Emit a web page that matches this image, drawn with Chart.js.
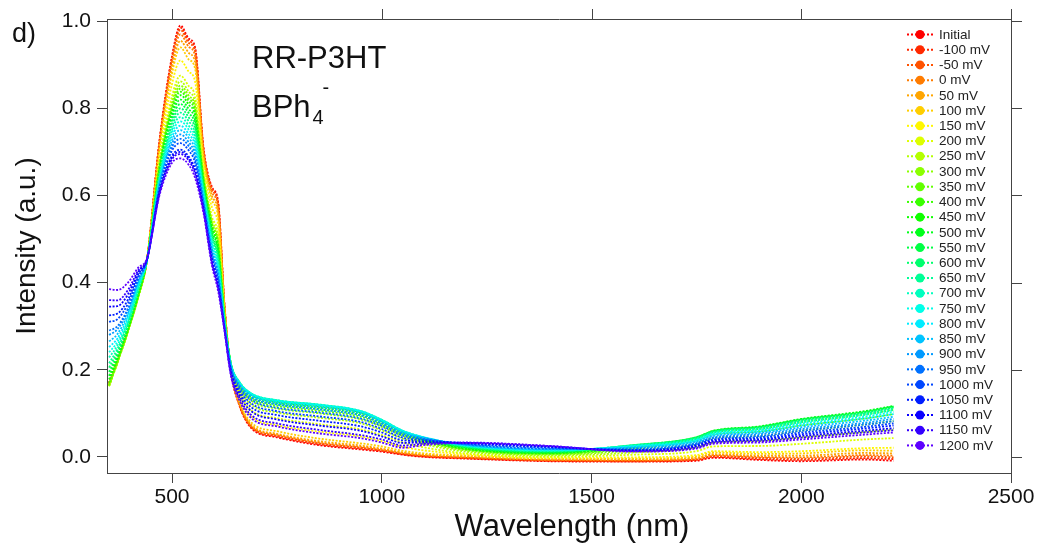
<!DOCTYPE html>
<html>
<head>
<meta charset="utf-8">
<script src="https://cdn.jsdelivr.net/npm/chart.js@4.4.1/dist/chart.umd.min.js"></script>
<style>
  html, body { margin: 0; padding: 0; background: #fff; }
</style>
</head>
<body>
<canvas id="spectra" width="1037" height="548"></canvas>
<script>
// wavelength grid (nm) shared by every spectrum
const wavelength = [350, 370, 395, 420, 440, 470, 500, 520, 540, 555, 575, 595, 610, 625, 640, 660, 690, 750, 850, 950, 1000, 1050, 1100, 1200, 1400, 1600, 1750, 1790, 1900, 2000, 2150, 2220];

const potentials = ['Initial', '-100 mV', '-50 mV', '0 mV', '50 mV', '100 mV', '150 mV', '200 mV', '250 mV', '300 mV',
  '350 mV', '400 mV', '450 mV', '500 mV', '550 mV', '600 mV', '650 mV', '700 mV', '750 mV', '800 mV',
  '850 mV', '900 mV', '950 mV', '1000 mV', '1050 mV', '1100 mV', '1150 mV', '1200 mV'];

const xTicks = [500, 1000, 1500, 2000, 2500];
const yTicks = [0.0, 0.2, 0.4, 0.6, 0.8, 1.0];

// intensity (a.u.) at each wavelength, one array per applied potential
const iInitial = [.17, .222, .292, .372, .45, .725, .92, .99, .96, .94, .71, .62, .585, .35, .20, .12, .065, .045, .027, .017, .012, .005, 0, -.004, -.01, -.011, -.009, -.002, -.007, -.01, -.006, -.009];
const iM100 = [.17, .222, .292, .372, .45, .723, .916, .985, .955, .935, .708, .617, .582, .349, .200, .121, .067, .047, .029, .019, .014, .006, .001, -.003, -.009, -.01, -.007, 0, -.005, -.007, -.003, -.005];
const iM50 = [.168, .221, .291, .371, .45, .721, .912, .98, .95, .93, .705, .614, .578, .348, .200, .122, .068, .049, .031, .021, .015, .007, .002, -.002, -.008, -.009, -.006, .002, -.002, -.004, .001, -.001];
const i0 = [.167, .22, .29, .37, .45, .717, .904, .97, .941, .92, .70, .608, .571, .346, .200, .123, .070, .051, .033, .023, .017, .009, .004, -.001, -.007, -.008, -.004, .004, 0, -.001, .004, .003];
const i50 = [.166, .219, .29, .37, .45, .711, .892, .955, .927, .906, .693, .599, .561, .343, .200, .125, .073, .053, .036, .026, .019, .010, .005, .001, -.006, -.006, -.002, .006, .003, .003, .009, .008];
const i100 = [.165, .218, .289, .369, .45, .705, .88, .94, .912, .891, .685, .59, .551, .34, .201, .128, .078, .059, .042, .031, .024, .014, .008, .003, -.004, -.004, .001, .010, .007, .008, .015, .014];
const i150 = [.164, .218, .289, .369, .45, .692, .856, .91, .884, .861, .671, .573, .531, .334, .204, .137, .092, .073, .058, .047, .036, .023, .015, .006, -.002, -.001, .004, .013, .011, .013, .020, .021];
const i200 = [.163, .217, .288, .368, .45, .678, .828, .875, .851, .827, .653, .552, .508, .327, .207, .147, .106, .089, .075, .063, .050, .033, .022, .008, 0, .005, .013, .024, .025, .03, .04, .043];
const i250 = [.162, .216, .288, .368, .45, .673, .817, .862, .838, .814, .647, .544, .499, .325, .210, .156, .119, .102, .09, .077, .061, .042, .029, .012, .003, .01, .022, .033, .037, .045, .057, .063];
const i300 = [.163, .217, .288, .368, .45, .668, .809, .852, .829, .804, .642, .539, .492, .323, .213, .161, .128, .111, .10, .086, .069, .048, .033, .015, .005, .015, .030, .043, .048, .06, .074, .082];
const i350 = [.165, .218, .289, .369, .45, .666, .804, .845, .822, .798, .639, .535, .488, .322, .214, .165, .133, .117, .106, .092, .074, .052, .036, .017, .007, .019, .037, .051, .058, .072, .088, .098];
const i400 = [.17, .222, .292, .372, .45, .663, .798, .838, .816, .791, .635, .53, .483, .32, .215, .167, .136, .121, .11, .096, .077, .054, .038, .018, .008, .022, .041, .056, .064, .08, .097, .108];
const i450 = [.178, .226, .294, .375, .45, .659, .791, .83, .808, .783, .631, .526, .477, .319, .215, .169, .139, .123, .113, .099, .080, .056, .040, .019, .009, .024, .044, .059, .068, .085, .102, .115];
const i500 = [.186, .231, .297, .377, .45, .655, .784, .82, .798, .773, .626, .52, .471, .317, .216, .171, .142, .126, .116, .102, .082, .058, .041, .021, .01, .026, .045, .060, .070, .087, .105, .117];
const i550 = [.195, .236, .30, .38, .45, .651, .775, .81, .789, .763, .622, .514, .464, .315, .215, .172, .143, .128, .118, .104, .083, .059, .042, .022, .011, .027, .045, .059, .069, .086, .103, .116];
const i600 = [.205, .242, .303, .384, .45, .647, .767, .80, .779, .753, .617, .508, .457, .313, .215, .172, .144, .129, .119, .104, .084, .059, .043, .023, .012, .027, .044, .058, .067, .084, .101, .113];
const i650 = [.215, .248, .307, .387, .45, .643, .759, .79, .77, .743, .612, .502, .451, .311, .215, .173, .145, .130, .12, .105, .085, .060, .044, .024, .013, .027, .043, .057, .066, .082, .099, .111];
const i700 = [.228, .256, .312, .391, .45, .639, .751, .78, .76, .733, .607, .496, .444, .309, .214, .172, .145, .130, .12, .105, .085, .060, .045, .025, .014, .026, .041, .055, .063, .079, .096, .107];
const i750 = [.24, .264, .317, .395, .45, .635, .743, .77, .751, .724, .602, .49, .437, .307, .213, .172, .145, .130, .12, .105, .085, .060, .045, .026, .015, .025, .039, .053, .061, .076, .092, .103];
const i800 = [.252, .272, .323, .399, .45, .631, .735, .76, .741, .714, .597, .484, .43, .305, .212, .171, .143, .128, .118, .104, .083, .059, .045, .027, .016, .024, .037, .051, .058, .072, .088, .098];
const i850 = [.265, .282, .329, .402, .45, .627, .727, .75, .732, .704, .592, .478, .424, .303, .210, .168, .140, .124, .114, .100, .080, .056, .044, .027, .017, .022, .035, .048, .055, .068, .083, .092];
const i900 = [.28, .293, .336, .407, .45, .622, .719, .74, .722, .694, .587, .472, .417, .301, .208, .165, .136, .120, .109, .095, .076, .053, .043, .028, .018, .02, .032, .045, .052, .064, .078, .087];
const i950 = [.29, .30, .341, .41, .45, .618, .711, .73, .713, .684, .582, .467, .41, .299, .206, .161, .130, .113, .102, .088, .071, .049, .041, .029, .019, .018, .030, .043, .048, .06, .074, .082];
const i1000 = [.31, .316, .352, .415, .452, .614, .703, .72, .703, .675, .577, .461, .404, .297, .202, .155, .122, .105, .093, .080, .064, .044, .039, .030, .021, .016, .028, .040, .045, .056, .069, .077];
const i1050 = [.325, .329, .361, .42, .452, .608, .691, .705, .689, .66, .57, .452, .394, .294, .198, .149, .113, .096, .083, .070, .056, .038, .036, .032, .023, .015, .026, .038, .042, .052, .065, .072];
const i1100 = [.345, .346, .373, .425, .453, .606, .687, .70, .684, .655, .567, .449, .39, .293, .195, .142, .104, .086, .072, .060, .047, .032, .033, .032, .024, .014, .024, .035, .039, .048, .060, .066];
const i1150 = [.36, .359, .383, .429, .454, .604, .683, .695, .68, .65, .565, .446, .387, .292, .191, .136, .095, .077, .062, .050, .040, .026, .030, .033, .025, .013, .021, .033, .036, .044, .056, .061];
const i1200 = [.385, .383, .40, .435, .455, .60, .675, .685, .67, .64, .56, .44, .38, .29, .188, .131, .088, .070, .054, .043, .033, .021, .027, .032, .025, .012, .019, .030, .033, .04, .051, .056];

const spectra = [iInitial, iM100, iM50, i0, i50, i100, i150, i200, i250, i300, i350, i400, i450, i500, i550,
  i600, i650, i700, i750, i800, i850, i900, i950, i1000, i1050, i1100, i1150, i1200];

const FONT = "'Liberation Sans', Arial, sans-serif";
const AXIS = '#444';
const TEXT = '#111';

// red -> violet rainbow across the potential series
function seriesColor(i) {
  return `hsl(${(i * 262 / (spectra.length - 1)).toFixed(1)}, 100%, 50%)`;
}

const datasets = spectra.map((vals, i) => ({
  label: potentials[i],
  data: wavelength.map((w, j) => ({ x: w, y: vals[j] })),
  borderColor: seriesColor(i),
  backgroundColor: seriesColor(i),
  borderWidth: 1.8,
  borderDash: [2, 1.5],
  pointRadius: 0,
  fill: false,
  cubicInterpolationMode: 'monotone',
  order: spectra.length - 1 - i
}));

// frame, mirrored ticks, axis title, panel annotations and the potential legend
const decorations = {
  id: 'decorations',
  afterDraw(chart) {
    const { ctx, chartArea: a, scales: { x, y } } = chart;
    ctx.save();

    ctx.strokeStyle = AXIS;
    ctx.lineWidth = 1;
    ctx.setLineDash([]);
    ctx.beginPath();
    ctx.moveTo(a.left, a.top + 0.5);
    ctx.lineTo(a.right + 1, a.top + 0.5);
    ctx.moveTo(a.right + 0.5, a.top);
    ctx.lineTo(a.right + 0.5, a.bottom);
    x.ticks.forEach(t => {
      const px = Math.round(x.getPixelForValue(t.value)) + 0.5;
      ctx.moveTo(px, a.top);
      ctx.lineTo(px, a.top - 10);
    });
    y.ticks.forEach(t => {
      const py = Math.round(y.getPixelForValue(t.value)) + 0.5;
      ctx.moveTo(a.right, py);
      ctx.lineTo(a.right + 11, py);
    });
    ctx.stroke();

    ctx.fillStyle = TEXT;
    ctx.textAlign = 'center';
    ctx.textBaseline = 'middle';
    ctx.font = `31px ${FONT}`;
    ctx.fillText('Wavelength (nm)', 572, 527);

    ctx.textBaseline = 'alphabetic';
    ctx.textAlign = 'left';
    ctx.font = `27px ${FONT}`;
    ctx.fillText('d)', 12, 42);

    ctx.font = `31px ${FONT}`;
    ctx.fillText('RR-P3HT', 252, 68);
    ctx.fillText('BPh', 252, 117);
    const bw = ctx.measureText('BPh').width;
    ctx.font = `20px ${FONT}`;
    ctx.fillText('4', 252 + bw + 2, 124);
    ctx.fillText('-', 252 + bw + 12, 94);

    // legend: dotted line with a dot, one row per potential
    ctx.font = `13.5px ${FONT}`;
    ctx.textBaseline = 'middle';
    chart.data.datasets.forEach((ds, i) => {
      const ry = 34.5 + i * 15.22;
      ctx.strokeStyle = ds.borderColor;
      ctx.lineWidth = 2;
      ctx.setLineDash([2, 2]);
      ctx.beginPath();
      ctx.moveTo(907, ry);
      ctx.lineTo(933, ry);
      ctx.stroke();
      ctx.setLineDash([]);
      ctx.fillStyle = ds.borderColor;
      ctx.beginPath();
      ctx.arc(920, ry, 4.5, 0, Math.PI * 2);
      ctx.fill();
      ctx.fillStyle = '#222';
      ctx.fillText(ds.label, 939, ry + 0.5);
    });

    ctx.restore();
  }
};

new Chart(document.getElementById('spectra'), {
  type: 'line',
  data: { datasets },
  plugins: [decorations],
  options: {
    responsive: false,
    animation: false,
    layout: { padding: { top: 19, right: 26, left: 0, bottom: 0 } },
    plugins: {
      legend: { display: false },
      tooltip: { enabled: false }
    },
    scales: {
      x: {
        type: 'linear',
        min: 345,
        max: 2500,
        afterFit: s => { s.height = 75; },
        afterBuildTicks: s => { s.ticks = xTicks.map(v => ({ value: v })); },
        ticks: {
          maxRotation: 0,
          padding: 2,
          color: TEXT,
          font: { family: FONT, size: 21 },
          callback: v => String(v)
        },
        grid: { drawOnChartArea: false, drawTicks: true, tickLength: 10, color: AXIS },
        border: { display: true, color: AXIS, width: 1 }
      },
      y: {
        type: 'linear',
        min: -0.037,
        max: 1.005,
        afterFit: s => { s.width = 107; },
        afterBuildTicks: s => { s.ticks = yTicks.map(v => ({ value: v })); },
        ticks: {
          padding: 6,
          color: TEXT,
          font: { family: FONT, size: 21 },
          callback: v => v.toFixed(1)
        },
        grid: { drawOnChartArea: false, drawTicks: true, tickLength: 10, color: AXIS },
        border: { display: true, color: AXIS, width: 1 },
        title: {
          display: true,
          text: 'Intensity (a.u.)',
          color: TEXT,
          font: { family: FONT, size: 28 },
          padding: { top: 10, bottom: 0 }
        }
      }
    }
  }
});
</script>
</body>
</html>
